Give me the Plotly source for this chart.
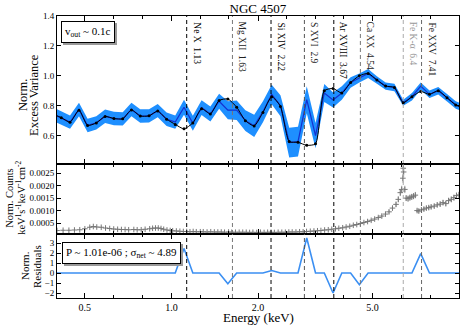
import numpy as np
import plotly.graph_objects as go
from plotly.subplots import make_subplots

FONT = "Liberation Serif, DejaVu Serif, serif"

# excess-variance grid (keV) and values
energy = [0.386, 0.414, 0.444, 0.477, 0.511, 0.548, 0.588, 0.631, 0.677, 0.726,
          0.779, 0.836, 0.896, 0.962, 1.031, 1.106, 1.187, 1.273, 1.366, 1.465,
          1.571, 1.686, 1.808, 1.940, 2.081, 2.232, 2.394, 2.568, 2.755, 2.955,
          3.170, 3.401, 3.648, 3.913, 4.198, 4.503, 4.830, 5.182, 5.558, 5.962,
          6.396, 6.861, 7.360, 7.895, 8.469, 9.085, 9.745, 10.45]
nxs = [0.745, 0.72, 0.69, 0.775, 0.668, 0.685, 0.73, 0.714, 0.712, 0.775,
       0.731, 0.732, 0.767, 0.71, 0.69, 0.79, 0.683, 0.787, 0.745, 0.83,
       0.77, 0.77, 0.70, 0.665, 0.76, 0.875, 0.80, 0.553, 0.56, 0.84,
       0.60, 0.885, 0.838, 0.885, 0.955, 0.985, 1.016, 0.972, 0.931, 0.922,
       0.82, 0.86, 0.931, 0.876, 0.90, 0.853, 0.805, 0.78]
nxs_err = [0.045, 0.045, 0.045, 0.045, 0.045, 0.045, 0.045, 0.045, 0.045, 0.045,
           0.045, 0.045, 0.045, 0.045, 0.045, 0.05, 0.05, 0.05, 0.05, 0.05,
           0.06, 0.065, 0.07, 0.075, 0.07, 0.065, 0.07, 0.10, 0.10, 0.09,
           0.085, 0.06, 0.05, 0.045, 0.035, 0.03, 0.03, 0.025, 0.025, 0.025,
           0.02, 0.025, 0.025, 0.025, 0.025, 0.025, 0.025, 0.025]
model = [0.745, 0.72, 0.69, 0.77, 0.668, 0.685, 0.728, 0.714, 0.712, 0.772,
         0.731, 0.732, 0.764, 0.71, 0.675, 0.645, 0.685, 0.78, 0.745, 0.835,
         0.845, 0.79, 0.70, 0.665, 0.755, 0.86, 0.795, 0.56, 0.555, 0.535,
         0.545, 0.90, 0.915, 0.885, 0.955, 1.0, 1.016, 0.972, 0.931, 0.922,
         0.82, 0.86, 0.895, 0.876, 0.90, 0.853, 0.805, 0.78]
resid = [0, 0, 0, 0, 0, 0, 0, 0, 0, 0,
         0, 0, 0, 0, 0, 2.45, 0, 0, 0, 0,
         -1.07, 0, 0, 0, 0, 0.25, 0, 0, 0, 3.5,
         0, 0, -2.0, 0, 0, -1.17, 0, 0, 0, 0,
         0, 0, 1.93, 0, 0, 0, 0, 0]

# normalised counts spectrum
cts_e = [0.40, 0.42, 0.44, 0.46, 0.48, 0.50, 0.52, 0.535, 0.55, 0.57,
         0.59, 0.61, 0.63, 0.65, 0.67, 0.69, 0.71, 0.74, 0.76, 0.785,
         0.81, 0.84, 0.86, 0.88, 0.90, 0.92, 0.94, 0.965, 0.99, 1.01,
         1.04, 1.07, 1.10, 1.13, 1.16, 1.19, 1.22, 1.26, 1.29, 1.33,
         1.37, 1.41, 1.45, 1.49, 1.53, 1.58, 1.62, 1.67, 1.72, 1.77,
         1.82, 1.87, 1.92, 1.98, 2.04, 2.10, 2.16, 2.22, 2.28, 2.35,
         2.42, 2.49, 2.56, 2.63, 2.71, 2.79, 2.87, 2.95, 3.04, 3.13,
         3.22, 3.31, 3.41, 3.51, 3.61, 3.72, 3.82, 3.94, 4.05, 4.17,
         4.29, 4.41, 4.54, 4.67, 4.81, 4.95, 5.09, 5.24, 5.39, 5.55,
         5.71, 5.87, 6.04, 6.15, 6.25, 6.32, 6.38, 6.40, 6.42, 6.48,
         6.55, 6.65, 6.75, 6.85, 6.95, 7.05, 7.15, 7.25, 7.40, 7.55,
         7.70, 7.85, 8.00, 8.20, 8.40, 8.60, 8.80, 9.00, 9.20, 9.40,
         9.60, 9.80, 10.0]
cts = [0.00020, 0.00021, 0.00021, 0.00022, 0.00023, 0.00027, 0.00033, 0.00036, 0.00034, 0.00033,
       0.00030, 0.00028, 0.00026, 0.00025, 0.00024, 0.00024, 0.00023, 0.00024, 0.00023, 0.00023,
       0.00025, 0.00027, 0.00029, 0.00030, 0.00030, 0.00028, 0.00025, 0.00022, 0.00020, 0.00019,
       0.00018, 0.00017, 0.00016, 0.00016, 0.00015, 0.00016, 0.00015, 0.00015, 0.00015, 0.00014,
       0.00015, 0.00014, 0.00014, 0.00014, 0.00013, 0.00014, 0.00013, 0.00013, 0.00013, 0.00013,
       0.00013, 0.00012, 0.00013, 0.00012, 0.00013, 0.00012, 0.00013, 0.00013, 0.00012, 0.00013,
       0.00013, 0.00013, 0.00014, 0.00014, 0.00014, 0.00015, 0.00015, 0.00016, 0.00017, 0.00018,
       0.00019, 0.00020, 0.00022, 0.00023, 0.00025, 0.00027, 0.00029, 0.00031, 0.00034, 0.00037,
       0.00041, 0.00044, 0.00048, 0.00052, 0.00056, 0.00061, 0.00066, 0.00072, 0.00078, 0.00086,
       0.00095, 0.00110, 0.00125, 0.00145, 0.00172, 0.00185, 0.00230, 0.00270, 0.00255, 0.00185,
       0.00150, 0.00148, 0.00152, 0.00155, 0.00158, 0.00162, 0.00100, 0.00098, 0.00103, 0.00106,
       0.00110, 0.00112, 0.00115, 0.00118, 0.00123, 0.00126, 0.00132, 0.00128, 0.00140, 0.00145,
       0.00152, 0.00160, 0.00163]

# line identifications
line_names = ["Ne X", "Mg XII", "Si XIV", "S XVI", "Ar XVIII", "Ca XX", "Fe K-\u03b1", "Fe XXV"]
line_e = [1.13, 1.63, 2.22, 2.9, 3.67, 4.54, 6.4, 7.41]
line_lbl = ["1.13", "1.63", "2.22", "2.9", "3.67", "4.54", "6.4", "7.41"]
line_col = ["#000000", "#777777", "#000000", "#555555", "#000000", "#777777", "#aaaaaa", "#666666"]
line_txt = ["#000000", "#222222", "#000000", "#222222", "#000000", "#222222", "#999999", "#222222"]

xticks = [0.5, 1.0, 2.0, 5.0]
xminor = [0.4, 0.63, 0.79, 1.26, 1.58, 2.51, 3.16, 3.98, 6.31, 7.94, 10.0]

yr = {1: [0.41, 1.4], 2: [0.00006, 0.00287], 3: [-2.5, 3.9]}

fig = make_subplots(rows=3, cols=1, shared_xaxes=True, vertical_spacing=0,
                    row_heights=[148, 70, 64])

upper = (np.array(nxs) + np.array(nxs_err)).tolist()
lower = (np.array(nxs) - np.array(nxs_err)).tolist()
fig.add_trace(go.Scatter(x=energy, y=upper, mode="lines", line=dict(width=0),
                         showlegend=False, hoverinfo="skip"), row=1, col=1)
fig.add_trace(go.Scatter(x=energy, y=lower, mode="lines", line=dict(width=0),
                         fill="tonexty", fillcolor="#1e8fff",
                         showlegend=False, hoverinfo="skip"), row=1, col=1)
fig.add_trace(go.Scatter(x=energy, y=nxs, mode="lines", line=dict(color="#1530d0", width=1.2),
                         showlegend=False), row=1, col=1)
fig.add_trace(go.Scatter(x=energy, y=model, mode="lines+markers",
                         line=dict(color="black", width=1, shape="spline", smoothing=0.6),
                         marker=dict(color="black", size=3), showlegend=False), row=1, col=1)

fig.add_trace(go.Scatter(x=cts_e, y=cts, mode="markers",
                         marker=dict(symbol="cross-thin", size=4, line=dict(width=1, color="#777777")),
                         error_y=dict(type="percent", value=8, color="#999999", thickness=0.8, width=0),
                         showlegend=False), row=2, col=1)

fig.add_trace(go.Scatter(x=energy, y=resid, mode="lines", line=dict(color="#3b8ff2", width=1.6),
                         showlegend=False), row=3, col=1)

# dashed identification lines through every panel
for e, c in zip(line_e, line_col):
    for r in (1, 2, 3):
        fig.add_trace(go.Scatter(x=[e, e], y=yr[r], mode="lines",
                                 line=dict(color=c, width=1, dash="4px,3px"),
                                 showlegend=False, hoverinfo="skip"), row=r, col=1)

for n, e, l, c in zip(line_names, line_e, line_lbl, line_txt):
    fig.add_annotation(x=np.log10(e), y=1.4, xref="x", yref="y", text=n + "\u00a0\u00a0" + l,
                       textangle=90, showarrow=False, xanchor="center", yanchor="top",
                       xshift=10, yshift=-4, font=dict(family=FONT, size=9.5, color=c))

axis_font = dict(family=FONT, size=10, color="black")
for r in (1, 2, 3):
    fig.update_xaxes(type="log", range=[np.log10(0.4), np.log10(10)],
                     tickvals=xticks, ticktext=["0.5", "1.0", "2.0", "5.0"],
                     ticks="inside", ticklen=5, tickcolor="black",
                     minor=dict(tickvals=xminor, ticks="inside", ticklen=3, tickcolor="black"),
                     showline=True, linecolor="black", linewidth=1, mirror="allticks",
                     showgrid=False, zeroline=False, showticklabels=(r == 3),
                     tickfont=axis_font, row=r, col=1)

fig.update_yaxes(range=yr[1], tickvals=[0.6, 0.8, 1.0, 1.2, 1.4],
                 ticktext=["0.6", "0.8", "1.0", "1.2", "1.4"], row=1, col=1)
fig.update_yaxes(range=yr[2], tickvals=[0.0005, 0.001, 0.0015, 0.002, 0.0025],
                 ticktext=["0.0005", "0.0010", "0.0015", "0.0020", "0.0025"], row=2, col=1)
fig.update_yaxes(range=yr[3], tickvals=[-2, -1, 0, 1, 2, 3],
                 ticktext=["\u22122", "\u22121", "0", "1", "2", "3"], row=3, col=1)
fig.update_yaxes(ticks="inside", ticklen=4, tickcolor="black", showline=True, linecolor="black",
                 linewidth=1, mirror="allticks", showgrid=False, zeroline=False,
                 tickfont=dict(family=FONT, size=9, color="black"))

# y titles, one annotation per line
ytitles = [("Norm.", -0.0846, 0.720, 12.5), ("Excess Variance", -0.0572, 0.720, 12.5),
           ("Norm. Counts", -0.117, 0.355, 10.5),
           ("keV<sup>1</sup>s<sup>-1</sup>keV<sup>-1</sup>cm<sup>-2</sup>", -0.0896, 0.355, 10.5),
           ("Norm.", -0.0796, 0.1135, 11), ("Residuals", -0.0498, 0.1135, 11)]
for txt, xc, yc, sz in ytitles:
    fig.add_annotation(xref="paper", yref="paper", x=xc, y=yc, text=txt, textangle=-90,
                       showarrow=False, xanchor="center", yanchor="middle",
                       font=dict(family=FONT, size=sz, color="black"))

fig.add_annotation(xref="paper", yref="paper", x=0.5, y=0, yshift=-19, text="Energy (keV)",
                   showarrow=False, xanchor="center", yanchor="middle",
                   font=dict(family=FONT, size=13, color="black"))

# legend-like boxes with drop shadow
for txt, bx, by in [("v<sub>out</sub> ~ 0.1c", 0.01, 0.982),
                    ("P ~ 1.01e-06 ; \u03c3<sub>net</sub> ~ 4.89", 0.0124, 0.1986)]:
    fig.add_annotation(xref="paper", yref="paper", x=bx, y=by, xshift=2, yshift=-2, text=txt,
                       showarrow=False, xanchor="left", yanchor="top", bgcolor="#999999",
                       bordercolor="#999999", borderwidth=1, borderpad=3,
                       font=dict(family=FONT, size=11, color="#999999"))
    fig.add_annotation(xref="paper", yref="paper", x=bx, y=by, text=txt,
                       showarrow=False, xanchor="left", yanchor="top", bgcolor="white",
                       bordercolor="black", borderwidth=1, borderpad=3,
                       font=dict(family=FONT, size=11, color="black"))

fig.update_layout(
    width=463, height=328,
    margin=dict(l=57, r=4, t=16, b=30),
    paper_bgcolor="white", plot_bgcolor="white",
    title=dict(text="NGC 4507", x=0.557, xanchor="center", y=0.975, yanchor="middle",
               font=dict(family=FONT, size=13, color="black")),
    showlegend=False,
)

# page margin off so the figure sits at the window's corner
fig.write_html("out.html", config={"displayModeBar": False},
               post_script="document.body.style.margin='0';")
